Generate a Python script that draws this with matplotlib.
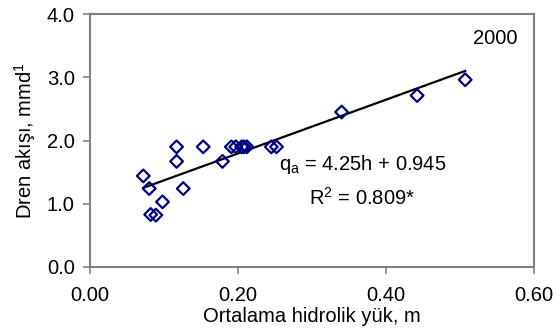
import matplotlib
matplotlib.use('Agg')
import matplotlib.pyplot as plt
import numpy as np

plt.rcParams['font.family'] = ['Liberation Sans', 'DejaVu Sans']
plt.rcParams['mathtext.fontset'] = 'custom'
plt.rcParams['mathtext.rm'] = 'Liberation Sans'
plt.rcParams['mathtext.it'] = 'Liberation Sans'

# ortalama hidrolik yük (m) ve dren akışı (mm/d)
h = [0.072, 0.080, 0.082, 0.089, 0.098, 0.117, 0.117, 0.126, 0.153, 0.179,
     0.191, 0.197, 0.205, 0.208, 0.212, 0.245, 0.252, 0.340, 0.442, 0.507]
q = [1.44, 1.24, 0.83, 0.82, 1.03, 1.90, 1.67, 1.24, 1.90, 1.67,
     1.90, 1.90, 1.90, 1.90, 1.90, 1.90, 1.90, 2.45, 2.71, 2.96]

egim = 4.25
kesisim = 0.945

xticks = [0.0, 0.2, 0.4, 0.6]
xlabels = ['0.00', '0.20', '0.40', '0.60']
yticks = [0.0, 1.0, 2.0, 3.0, 4.0]

fs = 14.5

fig = plt.figure(figsize=(5.6, 3.36), dpi=100)
ax = fig.add_axes([90/560, 1 - 267/336, 444/560, 253/336])

ax.scatter(h, q, marker='D', s=42, facecolors='none', edgecolors='#000080',
           linewidths=1.6, zorder=3)
xl = np.array([min(h), max(h)])
ax.plot(xl, egim * xl + kesisim, color='black', lw=1.6, zorder=2)

ax.set_xlim(0, 0.6)
ax.set_ylim(0, 4.0)
ax.set_xticks(xticks)
ax.set_xticklabels(xlabels)
ax.set_yticks(yticks)
ax.set_yticklabels([f'{v:.1f}' for v in yticks])
ax.tick_params(direction='out', length=5, width=1.2, color='#808080',
               labelsize=fs)
ax.tick_params(axis='x', pad=9)
ax.tick_params(axis='y', pad=6)
for s in ax.spines.values():
    s.set_color('#808080')
    s.set_linewidth(1.5)

ax.set_xlabel('Ortalama hidrolik yük, m', fontsize=fs, labelpad=1)
ax.set_ylabel('Dren akışı, mmd$^{1}$', fontsize=fs, labelpad=6)

ax.text(0.548, 3.62, '2000', fontsize=fs, ha='center', va='center')
ax.text(0.368, 1.62, '$\\mathrm{q_a}$ = 4.25h + 0.945', fontsize=fs,
        ha='center', va='center')
ax.text(0.368, 1.10, 'R$^{2}$ = 0.809*', fontsize=fs, ha='center', va='center')

fig.savefig('out.png', dpi=100)
